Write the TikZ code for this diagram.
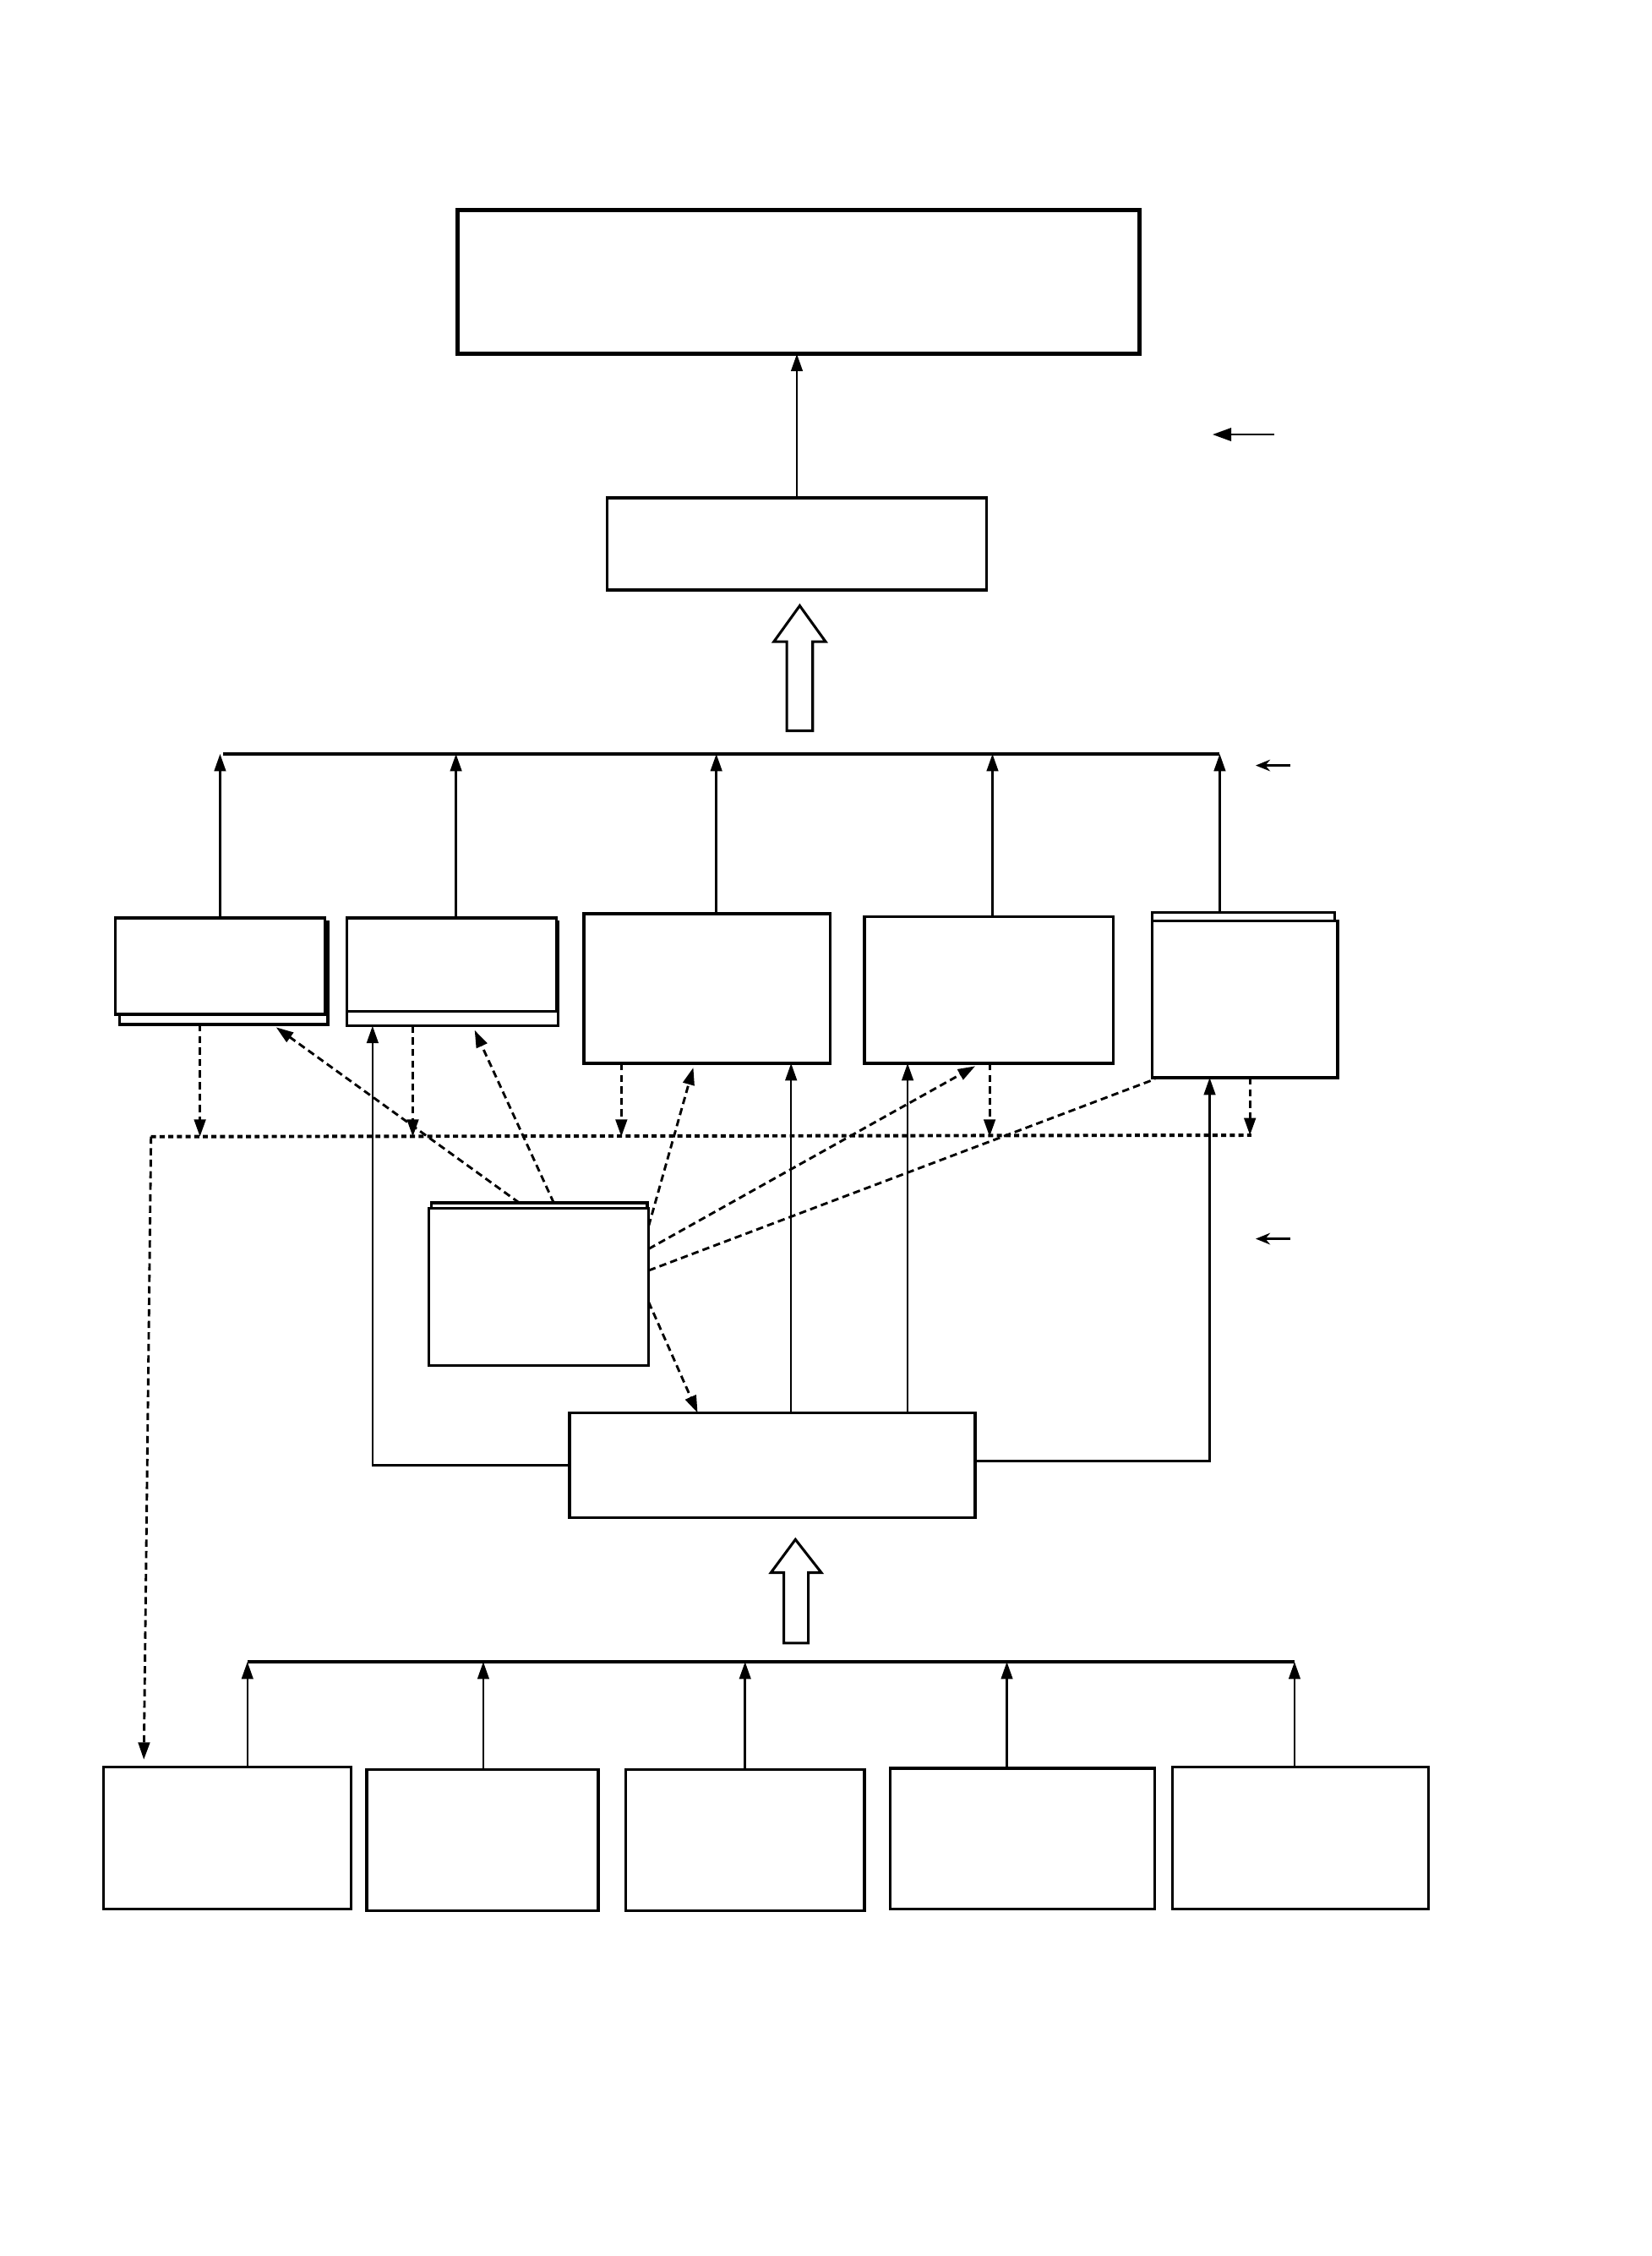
\documentclass[tikz,border=0pt]{standalone}
\usetikzlibrary{arrows.meta,calc}
\begin{document}
\begin{tikzpicture}[x=1pt,y=-1pt,
  box/.style={draw, line width=1.9pt, inner sep=0pt, outer sep=0pt, anchor=north west, fill=white},
  arr/.style={line width=1.5pt, -{Triangle[length=12pt,width=8pt]}},
  darr/.style={line width=1.7pt, dash pattern=on 5pt off 3pt, -{Triangle[length=12pt,width=8pt]}},
  dline/.style={line width=1.7pt, dash pattern=on 5pt off 3pt},
  dbus/.style={line width=2.3pt, dash pattern=on 3.5pt off 2.5pt},
  bus/.style={line width=2.4pt},
  side/.style={line width=1.5pt, -{Stealth[length=10pt,width=8pt]}},
  blockarrow/.style={draw, line width=1.8pt, fill=white, line join=miter}]
\useasboundingbox[fill=white] (0,0) rectangle (1148,1568);

% ---- top boxes
\node[box, line width=3pt, minimum width=474pt, minimum height=100pt] (top) at (318,146) {};
\node[box, minimum width=264pt, minimum height=64pt] (mid) at (422,346) {};
\draw[arr] (mid.north) -- (mid.north |- top.south);

% side arrows
\coordinate (s1a) at (886,302); \coordinate (s1b) at (843,302);
\draw[side, -{Triangle[length=13pt,width=9pt]}] (s1a) -- (s1b);
\coordinate (s2a) at (897,532); \coordinate (s2b) at (873,532);
\draw[side] (s2a) -- (s2b);
\coordinate (s3a) at (897,861); \coordinate (s3b) at (873,861);
\draw[side] (s3a) -- (s3b);

% block arrow 1
\draw[blockarrow] (547,508) -- (565,508) -- (565,446) -- (574,446) -- (556,421) -- (538,446) -- (547,446) -- cycle;

% ---- bus 1
\coordinate (bus1l) at (155,524); \coordinate (bus1r) at (848,524);
\draw[bus] (bus1l) -- (bus1r);

% ---- row 1 boxes
\node[box, minimum width=145pt, minimum height=71pt] (b1back) at (83,641) {};
\node[box, minimum width=146pt, minimum height=67pt] (b1) at (80,638) {};
\node[box, minimum width=147pt, minimum height=72pt] (b2back) at (241,641) {};
\node[box, minimum width=146pt, minimum height=65pt] (b2) at (241,638) {};
\node[box, minimum width=171pt, minimum height=104pt] (b3) at (406,635) {};
\node[box, minimum width=173pt, minimum height=102pt] (b4) at (601,637) {};
\node[box, minimum width=127pt, minimum height=40pt] (b5back) at (801,634) {};
\node[box, minimum width=129pt, minimum height=109pt] (b5) at (801,640) {};

% arrows to bus 1
\draw[arr] (b1.north) -- (b1.north |- bus1l);
\coordinate (u2) at ($(b2.north west)+(76,0)$);
\draw[arr] (u2) -- (u2 |- bus1l);
\coordinate (u3) at ($(b3.north west)+(92,0)$);
\draw[arr] (u3) -- (u3 |- bus1l);
\coordinate (u4) at ($(b4.north west)+(89,0)$);
\draw[arr] (u4) -- (u4 |- bus1l);
\coordinate (u5) at ($(b5back.north west)+(47,0)$);
\draw[arr] (u5) -- (u5 |- bus1r);

% ---- dashed horizontal line
\coordinate (dl) at (105,790); \coordinate (dr) at (870,789);
\draw[dbus] (dl) -- (dr);

% ---- centre box and bottom-middle box
\node[box, minimum width=150pt, minimum height=40pt] (cback) at (300,836) {};
\node[box, minimum width=153pt, minimum height=109pt] (c) at (298,840) {};
\node[box, minimum width=282pt, minimum height=73pt] (bm) at (396,982) {};

% dashed arrows from boxes down to the dashed line
\coordinate (v1) at ($(b1back.south west)+(56,0)$);
\draw[darr] (v1) -- (v1 |- dl);
\coordinate (v2) at ($(b2back.south west)+(46,0)$);
\draw[darr] (v2) -- (v2 |- dl);
\coordinate (v3) at ($(b3.south west)+(26,0)$);
\draw[darr] (v3) -- (v3 |- dl);
\coordinate (v4) at ($(b4.south west)+(87,0)$);
\draw[darr] (v4) -- (v4 |- dl);
\coordinate (v5) at ($(b5.south west)+(68,0)$);
\draw[darr] (v5) -- (v5 |- dr);

% dashed arrows from centre box
\coordinate (c1) at ($(cback.north west)+(61,0)$);
\coordinate (t1) at ($(b1back.south west)+(109,2)$);
\draw[darr] (c1) -- (t1);
\coordinate (c2) at ($(cback.north west)+(85,0)$);
\coordinate (t2) at ($(b2back.south west)+(89,3)$);
\draw[darr] (c2) -- (t2);
\coordinate (c3) at ($(c.north east)+(0,12)$);
\coordinate (t3) at ($(b3.south west)+(76,3)$);
\draw[darr] (c3) -- (t3);
\coordinate (c4) at ($(c.north east)+(0,28)$);
\coordinate (t4) at ($(b4.south west)+(77,2)$);
\draw[darr] (c4) -- (t4);
\coordinate (c5) at ($(c.north east)+(0,43)$);
\coordinate (t5) at ($(b5.south west)+(2,1)$);
\draw[dline] (c5) -- (t5);
\coordinate (c6) at ($(c.north east)+(0,65)$);
\coordinate (t6) at ($(bm.north west)+(89,0)$);
\draw[darr] (c6) -- (t6);

% solid connectors from bottom-middle box
\coordinate (w2) at ($(b2back.south west)+(18,0)$);
\draw[arr] (bm.west) -| (w2);
\coordinate (w3) at ($(bm.north west)+(154,0)$);
\draw[arr] (w3) -- (w3 |- b3.south);
\coordinate (w4) at ($(bm.north west)+(235,0)$);
\draw[arr] (w4) -- (w4 |- b4.south);
\coordinate (w5) at ($(b5.south west)+(40,0)$);
\draw[arr] ($(bm.east)+(0,-3)$) -| (w5);

% block arrow 2
\draw[blockarrow] (545,1142) -- (562,1142) -- (562,1093) -- (571,1093) -- (553,1070) -- (536,1093) -- (545,1093) -- cycle;

% ---- bus 2 and bottom boxes
\coordinate (bus2l) at (172,1155); \coordinate (bus2r) at (900,1155);
\draw[bus] (bus2l) -- (bus2r);
\node[box, minimum width=172pt, minimum height=99pt] (d1) at (72,1228) {};
\node[box, minimum width=161pt, minimum height=98pt] (d2) at (255,1230) {};
\node[box, minimum width=166pt, minimum height=98pt] (d3) at (435,1230) {};
\node[box, minimum width=184pt, minimum height=98pt] (d4) at (619,1229) {};
\node[box, minimum width=178pt, minimum height=99pt] (d5) at (815,1228) {};

\coordinate (e1) at ($(d1.north west)+(100,0)$);
\draw[arr] (e1) -- (e1 |- bus2l);
\coordinate (e2) at ($(d2.north west)+(81,0)$);
\draw[arr] (e2) -- (e2 |- bus2l);
\coordinate (e3) at ($(d3.north west)+(83,0)$);
\draw[arr] (e3) -- (e3 |- bus2l);
\coordinate (e4) at ($(d4.north west)+(81,0)$);
\draw[arr] (e4) -- (e4 |- bus2l);
\coordinate (e5) at ($(d5.north west)+(85,0)$);
\draw[arr] (e5) -- (e5 |- bus2r);

% long dashed line down to first bottom box
\coordinate (f1) at ($(d1.north west)+(28,-5)$);
\draw[darr] (dl) -- (f1);
\end{tikzpicture}
\end{document}
